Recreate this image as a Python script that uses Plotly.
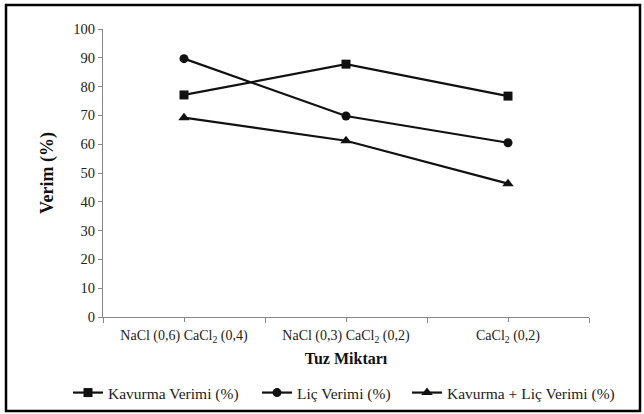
import plotly.graph_objects as go

# Salt mixtures tested (x categories)
categories = ["NaCl (0,6) CaCl<sub>2</sub> (0,4)",
              "NaCl (0,3) CaCl<sub>2</sub> (0,2)",
              "CaCl<sub>2</sub> (0,2)"]

# Yield values (%)
kavurma_verimi = [77.1, 87.8, 76.7]
lic_verimi = [89.7, 69.8, 60.5]
kavurma_lic_verimi = [69.2, 61.2, 46.3]

series_names = ["Kavurma Verimi (%)", "Liç Verimi (%)", "Kavurma + Liç Verimi (%)"]
series_values = [kavurma_verimi, lic_verimi, kavurma_lic_verimi]
series_symbols = ["square", "circle", "triangle-up"]
legend_ids = ["legend", "legend2", "legend3"]

y_ticks = [0, 10, 20, 30, 40, 50, 60, 70, 80, 90, 100]

FONT = "Liberation Serif"
x_pos = list(range(len(categories)))

fig = go.Figure()
for name, vals, sym, lg in zip(series_names, series_values, series_symbols, legend_ids):
    fig.add_trace(go.Scatter(
        x=x_pos, y=vals, name=name, mode="lines+markers", legend=lg,
        line=dict(color="#111111", width=2.2),
        marker=dict(symbol=sym, size=9 if sym != "triangle-up" else 10,
                    color="#111111"),
    ))

W, H = 644, 414
L, R, T, B = 103, 55, 29, 97
pw, ph = W - L - R, H - T - B

def px_x(p):
    return (p - L) / pw

def px_y(p):
    return (H - B - p) / ph

def legend_box(left_px):
    return dict(orientation="h", x=px_x(left_px), xanchor="left",
                y=px_y(393), yanchor="middle",
                font=dict(family=FONT, size=15.5, color="#222222"),
                itemwidth=30, bgcolor="rgba(0,0,0,0)")

fig.update_layout(
    width=W, height=H,
    margin=dict(l=L, r=R, t=T, b=B, autoexpand=False),
    paper_bgcolor="white", plot_bgcolor="white",
    font=dict(family=FONT, color="#222222", size=14),
    showlegend=True,
    legend=legend_box(68),
    legend2=legend_box(257),
    legend3=legend_box(407),
    xaxis=dict(
        range=[-0.5, len(categories) - 0.5],
        tickmode="array", tickvals=x_pos, ticktext=categories,
        ticks="outside", ticklen=4, tickcolor="#888888",
        ticklabelstandoff=1,
        showline=True, linecolor="#888888", linewidth=1.2,
        showgrid=False, zeroline=False,
        tickfont=dict(family=FONT, size=14, color="#222222"),
        minor=dict(tickmode="linear", tick0=-0.5, dtick=1, ticks="outside",
                   ticklen=5, tickcolor="#888888"),
        title=dict(text="<b>Tuz Miktarı</b>", standoff=8,
                   font=dict(family=FONT, size=16, color="#111111")),
    ),
    yaxis=dict(
        range=[0, 100], tickmode="array", tickvals=y_ticks,
        ticks="outside", ticklen=4, tickcolor="#888888",
        showline=True, linecolor="#888888", linewidth=1.2,
        showgrid=False, zeroline=False,
        tickfont=dict(family=FONT, size=14.5, color="#222222"),
        title=dict(text="<b>Verim (%)</b>", standoff=14,
                   font=dict(family=FONT, size=18, color="#111111")),
    ),
    shapes=[dict(type="rect", xref="paper", yref="paper",
                 x0=px_x(6), x1=px_x(640), y0=px_y(411), y1=px_y(5),
                 line=dict(color="black", width=2.5), layer="below")],
)

fig.write_html("out.html")
